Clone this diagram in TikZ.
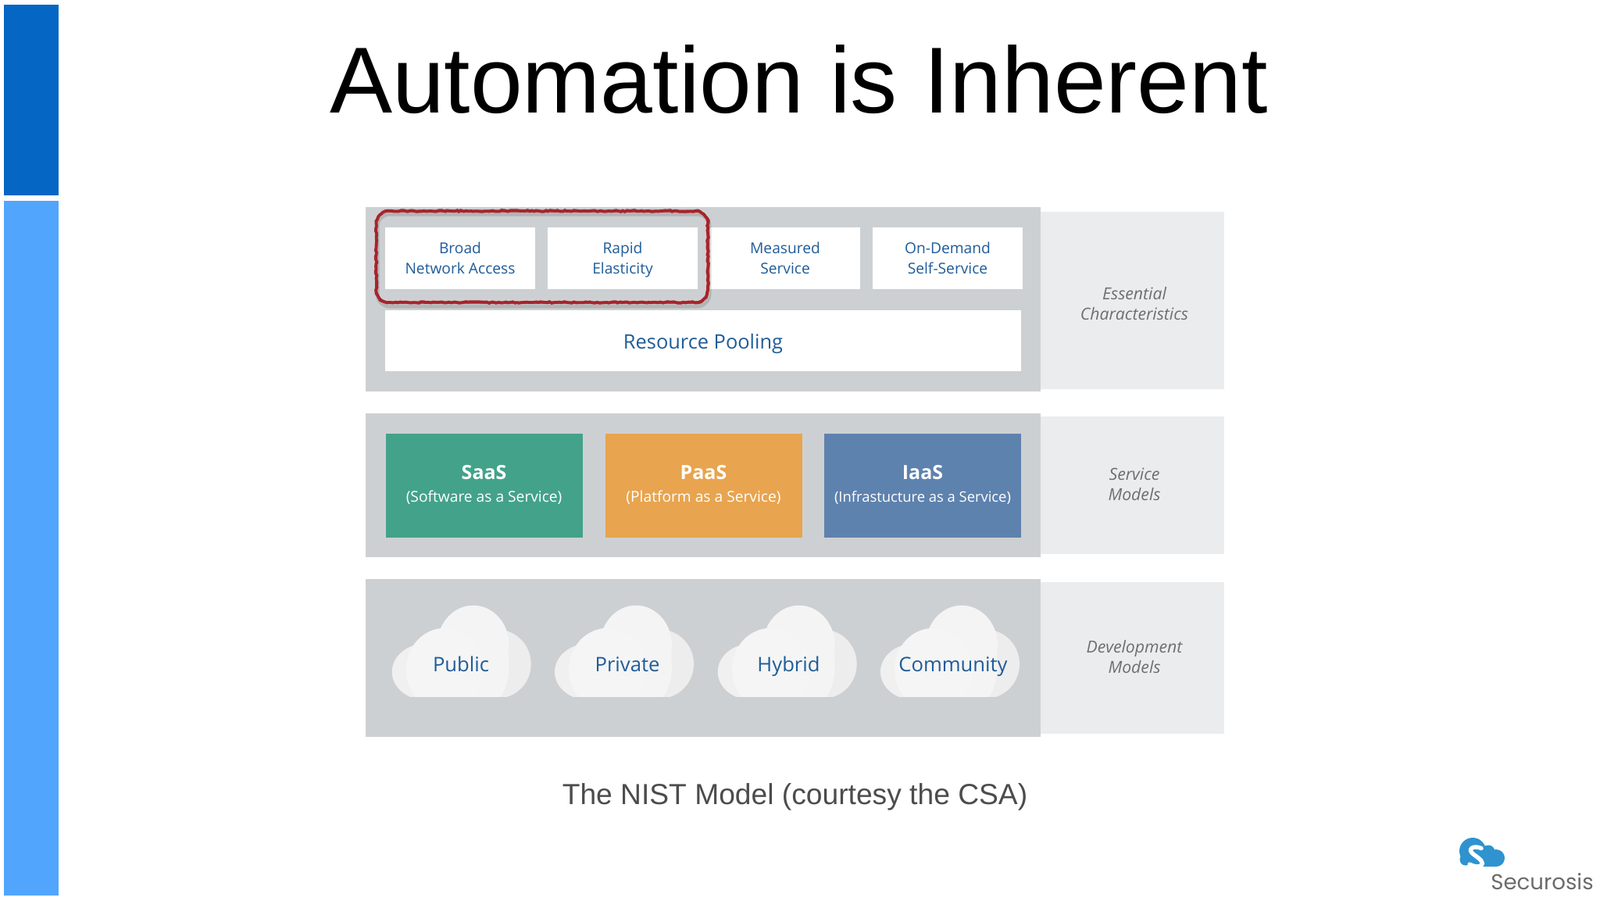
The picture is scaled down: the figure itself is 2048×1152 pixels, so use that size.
\documentclass[tikz,border=0pt]{standalone}
\usepackage{fontspec}
\setmainfont{Open Sans}
\newfontfamily\slidefont{Liberation Sans}
\newfontfamily\logofont{Poppins}
\usetikzlibrary{positioning, decorations.pathmorphing, fit}
\definecolor{sidedark}{HTML}{0566C4}
\definecolor{sidelight}{HTML}{52A5FD}
\definecolor{panelgray}{HTML}{CDD0D2}
\definecolor{sidegray}{HTML}{EBECEE}
\definecolor{labelblue}{HTML}{1F5C99}
\definecolor{labelgray}{HTML}{6E6E6E}
\definecolor{saasgreen}{HTML}{43A28A}
\definecolor{paasorange}{HTML}{E8A44E}
\definecolor{iaasblue}{HTML}{5E82AE}
\definecolor{circlered}{HTML}{A8232B}
\definecolor{logoblue}{HTML}{2E93CF}
\tikzstyle{panel} = [rectangle, fill=panelgray, inner sep=0pt, minimum width=432pt]
\tikzstyle{sidepanel} = [rectangle, fill=sidegray, inner sep=0pt, minimum width=117.5pt]
\tikzstyle{wbox} = [rectangle, fill=white, inner sep=0pt, text=labelblue, align=center, text depth=0.8pt,
font={\fontsize{9.6}{13}\selectfont}, minimum width=96pt, minimum height=39.5pt]
\tikzstyle{sbox} = [rectangle, inner sep=0pt, text=white, align=center, text depth=2.6pt,
minimum width=126pt, minimum height=66.5pt]
\tikzstyle{sidelabel} = [text=labelgray, align=center, text depth=0pt, font={\fontsize{10.6}{13}\selectfont\itshape}]
\tikzstyle{cloudlabel} = [anchor=base, text=labelblue, font={\fontsize{12.8}{15}\selectfont}]
\tikzstyle{ring} = [circlered, line width=1.9pt]
\newcommand{\boxhead}[1]{{\fontsize{12.5}{17}\selectfont\bfseries #1}}
\newcommand{\boxtext}[1]{{\fontsize{9.6}{13}\selectfont #1}}
\tikzset{
  cloudpic/.pic={
    \begin{scope}
      \clip (-5,0) rectangle (185,-125);
      \fill[fill=black!7] (135,-42) ellipse (43 and 44);
      \fill[fill=black!6] (43,-32) ellipse (43 and 36);
      \fill[fill=black!4.5] (104,-66) ellipse (46 and 51);
      \fill[fill=black!4.5] (108,-40) ellipse (42 and 60);
      \fill[fill=black!4] (68,-35) ellipse (50 and 53);
    \end{scope}
  }
}

\begin{document}
\begin{tikzpicture}[x=0.5pt, y=-0.5pt, node distance=104pt]
  \useasboundingbox (0,0) rectangle (2048,1152);
  % side bars
  \node (BarDark) [rectangle, fill=sidedark, inner sep=0pt, minimum width=35pt, minimum height=122pt] at (40,128) {};
  \node (BarLight) [rectangle, fill=sidelight, inner sep=0pt, minimum width=35pt, minimum height=444.5pt] at (40,701) {};
  \node (Title) [anchor=base, font={\slidefont\fontsize{60}{60}\selectfont}] at (1022.5,144) {Automation is Inherent};

  % panels
  \node (SideTop) [sidepanel, minimum height=113.5pt] at (1449.5,384) {};
  \node (SideMid) [sidepanel, minimum height=88pt] at (1449.5,621) {};
  \node (SideLow) [sidepanel, minimum height=97pt] at (1449.5,842) {};
  \node (PanelTop) [panel, minimum height=118pt] at (900,383) {};
  \node (PanelMid) [panel, minimum height=92pt] at (900,621) {};
  \node (PanelLow) [panel, minimum height=101pt] at (900,842) {};

  % top row
  \node (Broad) [wbox] at (589,330.5) {Broad\\Network Access};
  \node (Rapid) [wbox, right of=Broad] {Rapid\\Elasticity};
  \node (Measured) [wbox, right of=Rapid] {Measured\\Service};
  \node (OnDemand) [wbox, right of=Measured] {On-Demand\\Self-Service};
  \node (Pooling) [rectangle, fill=white, inner sep=0pt, text=labelblue, minimum width=407.3pt, minimum height=39.4pt,
    text height=13pt, text depth=3pt, font={\fontsize{12.7}{15}\selectfont}] at (900,436) {Resource Pooling};

  % red ring
  \draw [black, opacity=0.13, line width=2.5pt, rounded corners=8pt] (483,274) rectangle (908,392);
  \draw [ring, line width=1.5pt, rounded corners=8pt] (481.6,270) rectangle (906,387);
  \draw [ring, decorate, decoration={random steps, segment length=1.5pt, amplitude=0.45pt}]
    (497.6,270) -- (890,270) .. controls (899,270) and (906,277) .. (906,286) -- (906,371)
    .. controls (906,380) and (899,387) .. (890,387) -- (497.6,387)
    .. controls (488.6,387) and (481.6,380) .. (481.6,371) -- (481.6,286)
    .. controls (481.6,277) and (488.6,270) .. (497.6,270) -- cycle;

  % service models
  \node (SaaS) [sbox, fill=saasgreen] at (619.6,621.5) {\boxhead{SaaS}\\[2.6pt]\boxtext{(Software as a Service)}};
  \node (PaaS) [sbox, fill=paasorange] at (900.5,621.5) {\boxhead{PaaS}\\[2.6pt]\boxtext{(Platform as a Service)}};
  \node (IaaS) [sbox, fill=iaasblue] at (1181,621.5) {\boxhead{IaaS}\\[2.6pt]{\fontsize{9.2}{13}\selectfont (Infrastucture as a Service)}};

  % clouds
  \pic at (501.7,891.7) {cloudpic};
  \pic at (710,891.7) {cloudpic};
  \pic at (918.7,891.7) {cloudpic};
  \pic at (1127,891.7) {cloudpic};
  \node (Public) [cloudlabel] at (590,859) {Public};
  \node (Private) [cloudlabel] at (803,859) {Private};
  \node (Hybrid) [cloudlabel] at (1009.5,859) {Hybrid};
  \node (Community) [cloudlabel] at (1220,859) {Community};

  % side labels
  \node (Essential) [sidelabel] at (1452,388) {Essential\\Characteristics};
  \node (Service) [sidelabel] at (1452,620) {Service\\Models};
  \node (Development) [sidelabel] at (1452,840) {Development\\Models};

  \node (Caption) [anchor=base, text=black!70, font={\slidefont\fontsize{18.6}{20}\selectfont}] at (1017.5,1029) {The NIST Model (courtesy the CSA)};

  % logo
  \fill [logoblue] (1885,1089) circle (17);
  \fill [logoblue] (1905,1090) circle (8.5);
  \fill [logoblue] (1915,1098) circle (11);
  \fill [logoblue] (1876,1100) circle (7.5);
  \fill [logoblue] (1884,1090) rectangle (1915,1109);
  \draw [white, line width=2.7pt, line cap=round] (1896,1085.5) .. controls (1885,1081) and (1877,1087) .. (1887,1094)
    .. controls (1894,1099) and (1901,1104) .. (1895,1108) .. controls (1890,1110) and (1885,1108) .. (1881,1106);
  \node (Logo) [anchor=base, text=black!58, inner sep=0pt, font={\logofont\fontsize{13.8}{15}\selectfont}] at (1974,1138) {Securosis};
\end{tikzpicture}
\end{document}
